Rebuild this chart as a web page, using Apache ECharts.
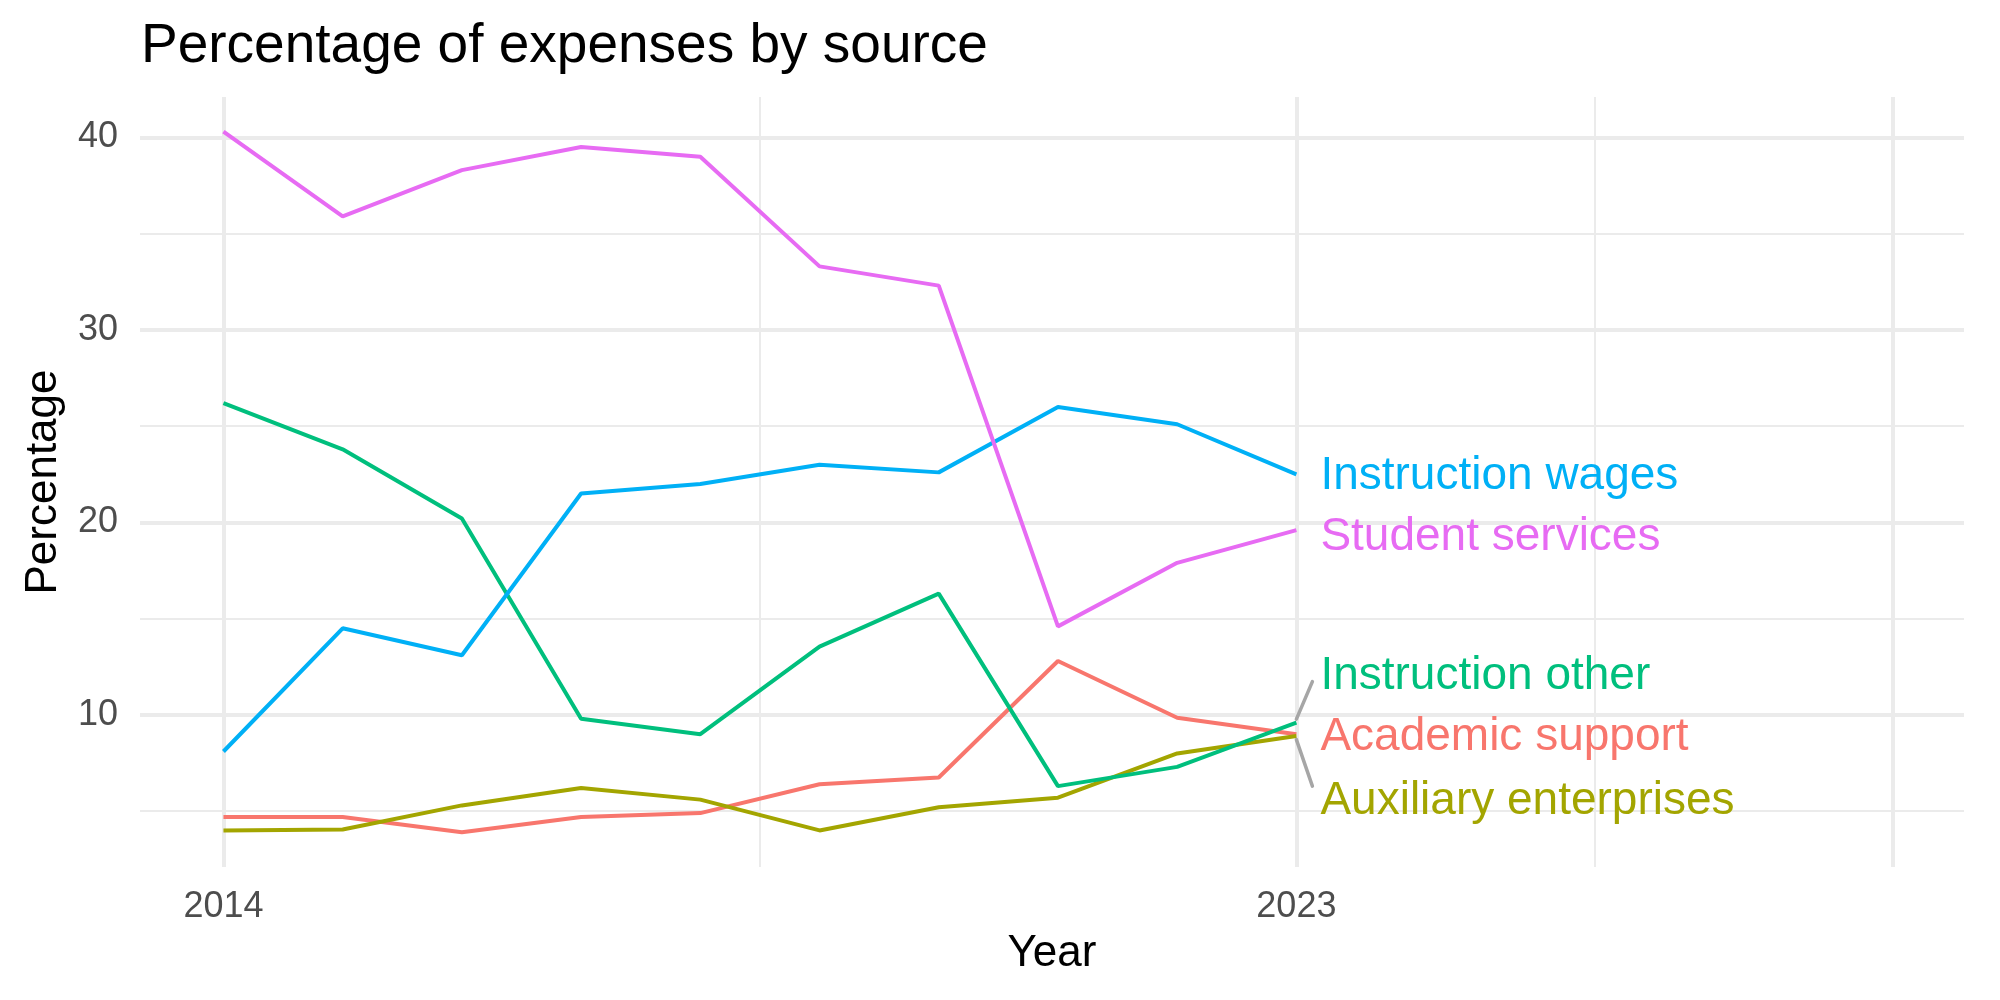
<!DOCTYPE html>
<html>
<head>
<meta charset="utf-8">
<script src="https://cdn.jsdelivr.net/npm/echarts@6/dist/echarts.min.js"></script>
<style>
html,body{margin:0;padding:0;background:#fff}
#chart{width:2000px;height:1000px}
</style>
</head>
<body>
<div id="chart"></div>
<script>
// values
var years = [2014, 2015, 2016, 2017, 2018, 2019, 2020, 2021, 2022, 2023];
var academicSupport      = [4.7, 4.7, 3.9, 4.7, 4.9, 6.4, 6.75, 12.8, 9.85, 9.0];
var auxiliaryEnterprises = [4.0, 4.05, 5.3, 6.2, 5.6, 4.0, 5.2, 5.7, 8.0, 8.9];
var instructionOther     = [26.2, 23.8, 20.2, 9.8, 9.0, 13.55, 16.3, 6.3, 7.3, 9.6];
var instructionWages     = [8.1, 14.5, 13.1, 21.5, 22.0, 23.0, 22.6, 26.0, 25.1, 22.5];
var studentServices      = [40.3, 35.9, 38.3, 39.5, 39.0, 33.3, 32.3, 14.6, 17.9, 19.6];

var xTickLabels = [2014, 2023];
var yTickLabels = [10, 20, 30, 40];
var xMajorBreaks = [2014, 2023, 2028];
var xMinorBreaks = [2018.5, 2025.5];
var yMajorBreaks = [10, 20, 30, 40];
var yMinorBreaks = [5, 15, 25, 35];

var FONT = '"Liberation Sans", Arial, sans-serif';
var GRID = '#EBEBEB';

// name, values, colour, label nudge (px) as ggrepel placed them
var lines = [
  {name: 'Academic support',      data: academicSupport,      color: '#F8766D', dy: 3,   seg: 0},
  {name: 'Auxiliary enterprises', data: auxiliaryEnterprises, color: '#A3A500', dy: 65,  seg: 1},
  {name: 'Instruction other',     data: instructionOther,     color: '#00BF7D', dy: -46, seg: -1},
  {name: 'Instruction wages',     data: instructionWages,     color: '#00B0F6', dy: 2,   seg: 0},
  {name: 'Student services',      data: studentServices,      color: '#E76BF3', dy: 7,   seg: 0}
];

function gridLines(vals, axis, width) {
  return vals.map(function (v) {
    var o = {lineStyle: {width: width}};
    o[axis] = v;
    return o;
  });
}

var series = [{
  type: 'line',
  data: [],
  silent: true,
  z: 0,
  markLine: {
    silent: true,
    z: 0,
    symbol: 'none',
    label: {show: false},
    emphasis: {disabled: true},
    animation: false,
    lineStyle: {color: GRID, type: 'solid'},
    data: gridLines(yMinorBreaks, 'yAxis', 2)
      .concat(gridLines(xMinorBreaks, 'xAxis', 2))
      .concat(gridLines(yMajorBreaks, 'yAxis', 4))
      .concat(gridLines(xMajorBreaks, 'xAxis', 4))
  }
}];

lines.forEach(function (s) {
  series.push({
    name: s.name,
    type: 'line',
    z: 3,
    data: years.map(function (y, i) { return [y, s.data[i]]; }),
    symbol: 'none',
    lineStyle: {color: s.color, width: 4},
    itemStyle: {color: s.color},
    endLabel: {
      show: true,
      formatter: '{a}',
      color: s.color,
      fontFamily: FONT,
      fontSize: 46,
      distance: 24,
      offset: [0, s.dy]
    }
  });
});

var chart = echarts.init(document.getElementById('chart'));
chart.setOption({
  animation: false,
  backgroundColor: '#fff',
  title: {
    text: 'Percentage of expenses by source',
    left: 136,
    top: 14,
    textStyle: {fontFamily: FONT, fontSize: 55, fontWeight: 'normal', color: '#000'}
  },
  grid: {left: 140, right: 36, top: 97, bottom: 133, outerBoundsMode: 'none'},
  xAxis: {
    type: 'value',
    min: 2013.3,
    max: 2028.6,
    name: 'Year',
    nameLocation: 'middle',
    nameGap: 65,
    nameTextStyle: {fontFamily: FONT, fontSize: 44, color: '#000'},
    axisLine: {show: false},
    axisTick: {show: false},
    splitLine: {show: false},
    axisLabel: {
      customValues: xTickLabels,
      fontFamily: FONT, fontSize: 36, color: '#4D4D4D', margin: 22,
      formatter: function (v) { return String(v); }
    }
  },
  yAxis: {
    type: 'value',
    min: 2.1,
    max: 42.1,
    name: 'Percentage',
    nameLocation: 'middle',
    nameRotate: 90,
    nameGap: 74,
    nameTextStyle: {fontFamily: FONT, fontSize: 44, color: '#000'},
    axisLine: {show: false},
    axisTick: {show: false},
    splitLine: {show: false},
    axisLabel: {
      customValues: yTickLabels,
      fontFamily: FONT, fontSize: 36, color: '#4D4D4D', margin: 22
    }
  },
  series: series
});

// ggrepel style leader segments for the nudged labels
var segs = [];
lines.forEach(function (s) {
  if (!s.seg) return;
  var last = s.data[s.data.length - 1];
  var p = chart.convertToPixel({gridIndex: 0}, [years[years.length - 1], last]);
  segs.push({
    type: 'line',
    z: 10,
    shape: {
      x1: p[0], y1: p[1] + s.seg * 3.5,
      x2: p[0] + 16, y2: p[1] + s.dy - 5 - s.seg * 10
    },
    style: {stroke: '#A6A6A6', lineWidth: 3.5, lineCap: 'round'}
  });
});
chart.setOption({graphic: segs});
</script>
</body>
</html>
